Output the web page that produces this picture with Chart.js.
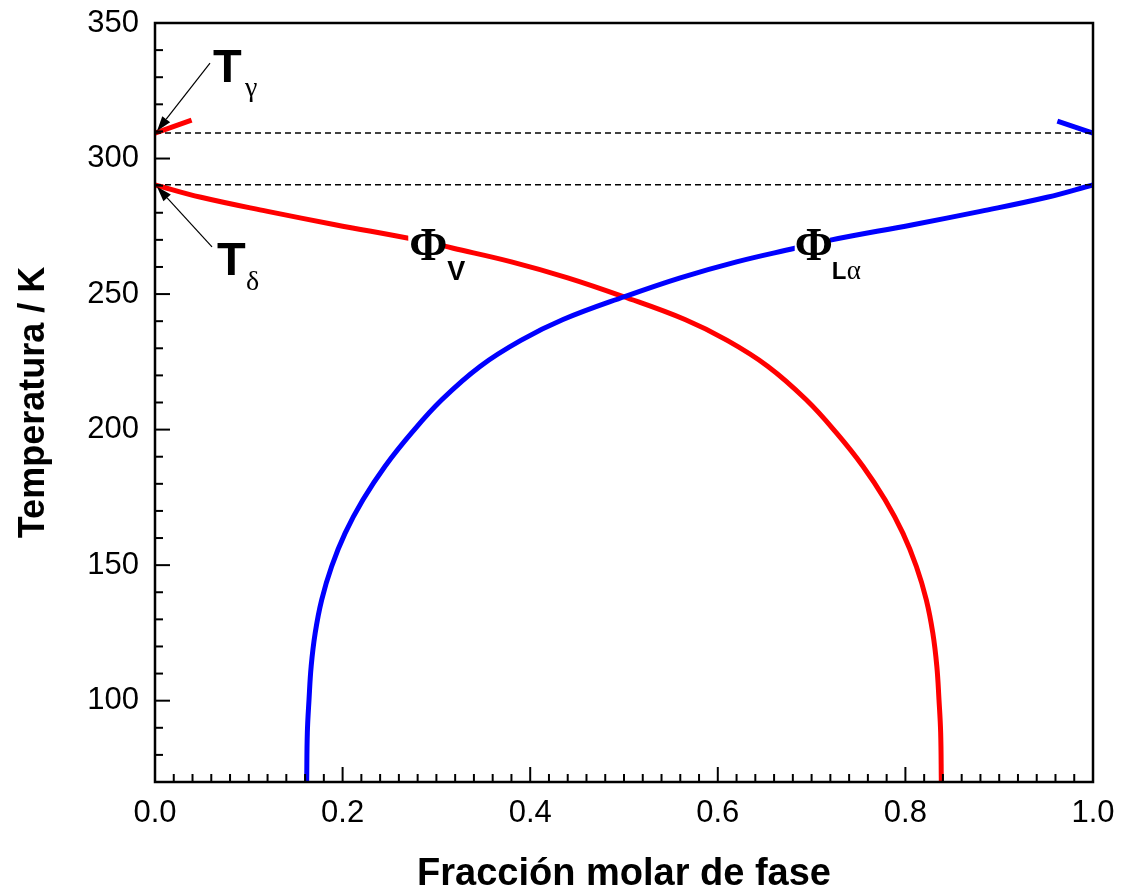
<!DOCTYPE html>
<html>
<head>
<meta charset="utf-8">
<script src="https://cdn.jsdelivr.net/npm/chart.js@4.4.1/dist/chart.umd.min.js"></script>
<style>
  body { margin: 0; background: #fff; }
  canvas { display: block; }
</style>
</head>
<body>
<canvas id="phase-chart" width="1123" height="893"></canvas>
<script>
// Φ_Lα branch (blue): molar fraction vs temperature
const lalphaX = [0.1617, 0.1624, 0.1642, 0.1665, 0.1708, 0.1777, 0.1883, 0.2027, 0.2217, 0.2451, 0.2733, 0.3057, 0.3465, 0.390, 0.435, 0.501, 0.560, 0.620, 0.682, 0.720, 0.808, 0.880, 0.951, 1.000];
const lalphaT = [70, 88.1, 100.4, 112.7, 125.0, 137.2, 149.5, 161.8, 174.1, 186.4, 198.7, 211.0, 223.3, 232.9, 240.6, 249.1, 256.0, 261.9, 266.9, 269.9, 275.6, 280.5, 285.7, 290.3];

// Φ_V branch (red)
const vapX = [0.000, 0.049, 0.120, 0.192, 0.280, 0.318, 0.380, 0.440, 0.499, 0.565, 0.610, 0.6535, 0.6943, 0.7267, 0.7549, 0.7783, 0.7973, 0.8117, 0.8223, 0.8292, 0.8335, 0.8358, 0.8376, 0.8383];
const vapT = [290.3, 285.7, 280.5, 275.6, 269.9, 266.9, 261.9, 256.0, 249.1, 240.6, 232.9, 223.3, 211.0, 198.7, 186.4, 174.1, 161.8, 149.5, 137.2, 125.0, 112.7, 100.4, 88.1, 70];

// short branches above T_gamma
const vapUpperX = [0.000, 0.039];
const vapUpperT = [309.4, 314.2];
const lalphaUpperX = [0.962, 1.000];
const lalphaUpperT = [313.8, 309.4];

// transition temperatures (dashed guides)
const tGamma = 309.4;
const tDelta = 290.3;

const xTickValues = [0, 0.2, 0.4, 0.6, 0.8, 1.0];
const yTickValues = [100, 150, 200, 250, 300, 350];

const toPoints = (xs, ys) => xs.map((x, i) => ({ x: x, y: ys[i] }));

const SANS = "'Liberation Sans', Arial, sans-serif";
const SERIF = "'Liberation Serif', 'Times New Roman', serif";

function curve(data, color) {
  return {
    data: data,
    borderColor: color,
    borderWidth: 5,
    pointRadius: 0,
    showLine: true,
    fill: false,
    tension: 0.4
  };
}

function guide(t) {
  return {
    data: [{ x: 0, y: t }, { x: 1, y: t }],
    borderColor: '#000',
    borderWidth: 1.5,
    borderDash: [6, 4],
    pointRadius: 0,
    showLine: true,
    fill: false
  };
}

function drawArrow(ctx, x0, y0, x1, y1) {
  const ang = Math.atan2(y1 - y0, x1 - x0);
  const headLen = 15, headW = 5;
  const bx = x1 - headLen * Math.cos(ang);
  const by = y1 - headLen * Math.sin(ang);
  ctx.beginPath();
  ctx.moveTo(x0, y0);
  ctx.lineTo(bx, by);
  ctx.strokeStyle = '#000';
  ctx.lineWidth = 1.2;
  ctx.stroke();
  ctx.beginPath();
  ctx.moveTo(x1, y1);
  ctx.lineTo(bx + headW * Math.sin(ang), by - headW * Math.cos(ang));
  ctx.lineTo(bx - headW * Math.sin(ang), by + headW * Math.cos(ang));
  ctx.closePath();
  ctx.fillStyle = '#000';
  ctx.fill();
}

// keep the plot box where the reference has it
function noScalePadding(scale) {
  scale.paddingTop = 0;
  scale.paddingBottom = 0;
  scale.paddingLeft = 0;
  scale.paddingRight = 0;
}

const decorPlugin = {
  id: 'decor',
  beforeDraw(chart) {
    const ctx = chart.ctx;
    ctx.save();
    ctx.fillStyle = '#fff';
    ctx.fillRect(0, 0, chart.width, chart.height);
    ctx.restore();
  },
  afterDatasetsDraw(chart) {
    const ctx = chart.ctx;
    const xs = chart.scales.x, ys = chart.scales.y;
    const area = chart.chartArea;
    ctx.save();

    // inward tick marks on bottom and left axes
    ctx.strokeStyle = '#000';
    ctx.lineWidth = 2;
    for (let i = 1; i < 50; i++) {
      const px = xs.getPixelForValue(i * 0.02);
      const len = i % 10 === 0 ? 15 : 8;
      ctx.beginPath();
      ctx.moveTo(px, area.bottom);
      ctx.lineTo(px, area.bottom - len);
      ctx.stroke();
    }
    for (let v = 80; v < 350; v += 10) {
      const py = ys.getPixelForValue(v);
      const len = v % 50 === 0 ? 15 : 8;
      ctx.beginPath();
      ctx.moveTo(area.left, py);
      ctx.lineTo(area.left + len, py);
      ctx.stroke();
    }

    // frame
    ctx.lineWidth = 2.5;
    ctx.strokeRect(area.left, area.top, area.right - area.left, area.bottom - area.top);

    // phase labels with white knockout over the curves
    ctx.fillStyle = '#fff';
    const vX = xs.getPixelForValue(0.270), vY = ys.getPixelForValue(268.5);
    ctx.fillRect(vX, vY - 20, 36, 40);
    const lX = xs.getPixelForValue(0.682), lY = ys.getPixelForValue(268);
    ctx.fillRect(lX, lY - 20, 35, 40);

    ctx.fillStyle = '#000';
    ctx.textBaseline = 'alphabetic';
    ctx.textAlign = 'left';
    ctx.font = 'bold 46px ' + SERIF;
    ctx.fillText('Φ', vX + 1, vY + 16);
    ctx.fillText('Φ', lX, lY + 15);
    ctx.font = 'bold 27px ' + SANS;
    ctx.fillText('V', vX + 39, vY + 36);
    ctx.font = 'bold 24px ' + SANS;
    ctx.fillText('L', lX + 37, lY + 34);
    ctx.font = '27px ' + SERIF;
    ctx.fillText('α', lX + 52, lY + 34);

    // T_gamma and T_delta annotations
    const gx = xs.getPixelForValue(0), gy = ys.getPixelForValue(tGamma);
    const dy = ys.getPixelForValue(tDelta);
    ctx.font = 'bold 47px ' + SANS;
    ctx.fillText('T', gx + 58, gy - 51);
    ctx.fillText('T', gx + 62, dy + 90);
    ctx.font = '28px ' + SERIF;
    ctx.fillText('γ', gx + 90, gy - 37);
    ctx.fillText('δ', gx + 91, dy + 105);

    drawArrow(ctx, gx + 55, gy - 70, gx + 2, gy - 2);
    drawArrow(ctx, gx + 57, dy + 62, gx + 2, dy + 2);

    ctx.restore();
  }
};

const ctx = document.getElementById('phase-chart').getContext('2d');
new Chart(ctx, {
  type: 'scatter',
  data: {
    datasets: [
      guide(tGamma),
      guide(tDelta),
      curve(toPoints(lalphaX, lalphaT), '#0000ff'),
      curve(toPoints(vapX, vapT), '#ff0000'),
      curve(toPoints(vapUpperX, vapUpperT), '#ff0000'),
      curve(toPoints(lalphaUpperX, lalphaUpperT), '#0000ff')
    ]
  },
  options: {
    responsive: false,
    animation: false,
    devicePixelRatio: 1,
    layout: { padding: { left: 0, top: 23, right: 30, bottom: 0 } },
    plugins: {
      legend: { display: false },
      tooltip: { enabled: false }
    },
    scales: {
      x: {
        type: 'linear',
        min: 0,
        max: 1,
        grid: { display: false, drawTicks: false },
        border: { display: false },
        afterBuildTicks: (scale) => { scale.ticks = xTickValues.map(v => ({ value: v })); },
        afterFit: (scale) => { scale.height = 111; noScalePadding(scale); },
        ticks: {
          color: '#000',
          padding: 13,
          maxRotation: 0,
          font: { family: SANS, size: 31 },
          callback: (v) => Number(v).toFixed(1)
        },
        title: {
          display: true,
          text: 'Fracción molar de fase',
          color: '#000',
          font: { family: SANS, size: 38, weight: 'bold' },
          padding: { top: 0, bottom: -4 }
        }
      },
      y: {
        type: 'linear',
        min: 70,
        max: 350,
        grid: { display: false, drawTicks: false },
        border: { display: false },
        afterBuildTicks: (scale) => { scale.ticks = yTickValues.map(v => ({ value: v })); },
        afterFit: (scale) => { scale.width = 155; noScalePadding(scale); },
        ticks: {
          color: '#000',
          padding: 16,
          font: { family: SANS, size: 31 }
        },
        title: {
          display: true,
          text: 'Temperatura / K',
          color: '#000',
          font: { family: SANS, size: 36, weight: 'bold' },
          padding: { top: 12, bottom: 0 }
        }
      }
    }
  },
  plugins: [decorPlugin]
});
</script>
</body>
</html>
